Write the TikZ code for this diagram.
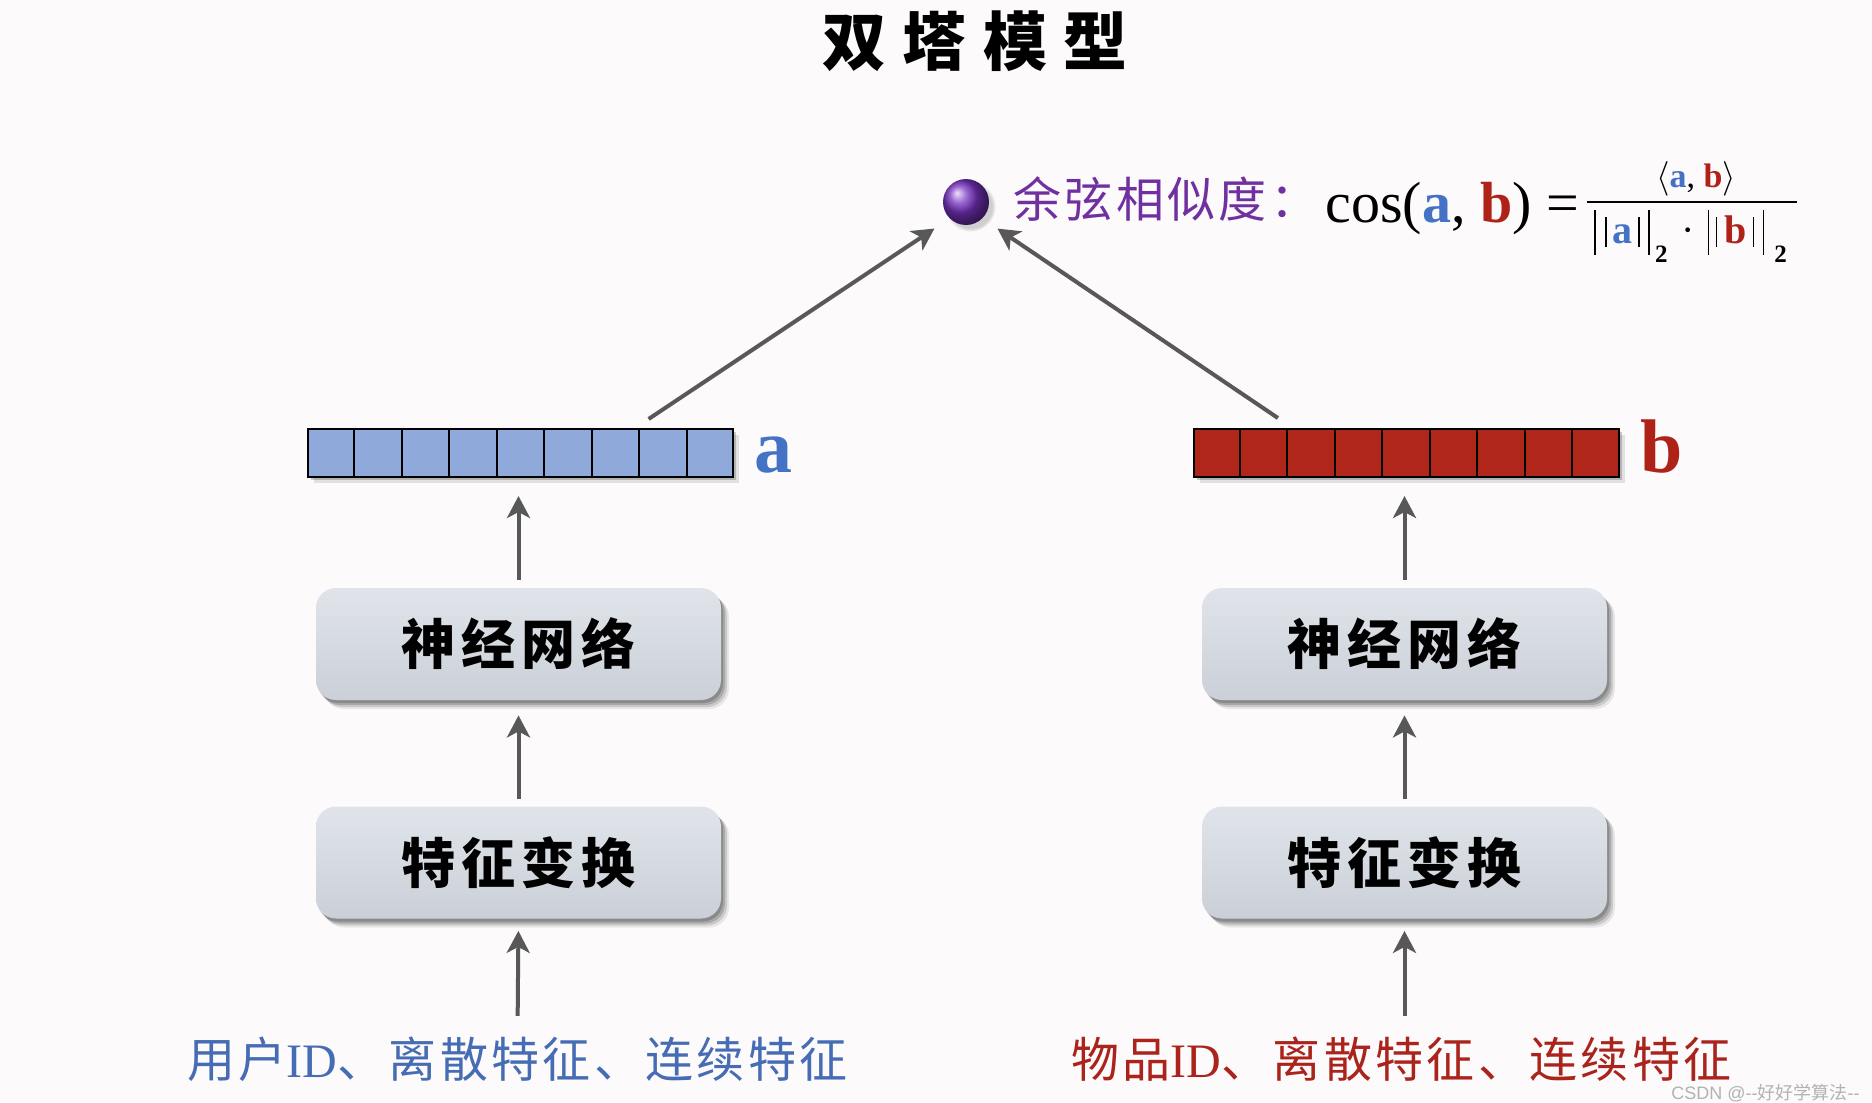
\documentclass[tikz,border=0pt]{standalone}
\usepackage{fontspec}
\setmainfont{Liberation Serif}
\newfontfamily\cjk{Noto Sans CJK SC}
\newfontfamily\cjkT[LetterSpace=26]{Noto Sans CJK SC}
\newfontfamily\cjkB[LetterSpace=11]{Noto Sans CJK SC}
\newfontfamily\cjkL[LetterSpace=7]{Noto Sans CJK SC}
\newfontfamily\wmsans{Liberation Sans}
\usetikzlibrary{arrows.meta,shadows,calc,fadings}
\definecolor{bg}{RGB}{252,250,251}
\definecolor{arrgray}{RGB}{88,88,88}
\definecolor{cellblue}{RGB}{143,169,219}
\definecolor{cellred}{RGB}{176,38,26}
\definecolor{labblue}{RGB}{68,114,196}
\definecolor{labred}{RGB}{175,34,24}
\definecolor{txtblue}{RGB}{70,108,180}
\definecolor{txtred}{RGB}{170,36,28}
\definecolor{purp}{RGB}{112,48,160}
\definecolor{sphpurple}{RGB}{122,52,196}
\definecolor{boxtop}{RGB}{224,228,234}
\definecolor{boxbot}{RGB}{203,208,216}
\definecolor{wmgray}{RGB}{178,178,178}
\newcommand\tallbar{\rule[-6pt]{0.8pt}{22.5pt}}
\newcommand\shortbar{\rule[-2pt]{0.8pt}{15pt}}
\newcommand\subtwo{\raisebox{-9.5pt}{\fontsize{12.5pt}{13pt}\selectfont\bfseries 2}}
\tikzset{
  arr/.style={draw=arrgray, line width=2pt, -{Stealth[length=11pt,width=11.5pt,inset=3pt]}},
  procbox/.style={rounded corners=10pt, minimum width=202.5pt, minimum height=56pt,
    top color=boxtop, bottom color=boxbot, draw=none, inner sep=0pt,
    drop shadow={shadow xshift=4pt, shadow yshift=-4.5pt, opacity=0.08, fill=black},
    drop shadow={shadow xshift=3pt, shadow yshift=-3.5pt, opacity=0.12, fill=black},
    drop shadow={shadow xshift=2pt, shadow yshift=-2.5pt, opacity=0.16, fill=black},
    drop shadow={shadow xshift=1pt, shadow yshift=-1.5pt, opacity=0.18, fill=black},
    font=\cjkB\bfseries\fontsize{27pt}{30pt}\selectfont},
  vec/.style={draw=black, line width=1pt, minimum width=212.5pt, minimum height=24pt,
    inner sep=0pt,
    drop shadow={shadow xshift=3pt, shadow yshift=-3pt, opacity=0.1, fill=black},
    drop shadow={shadow xshift=1.5pt, shadow yshift=-1.5pt, opacity=0.2, fill=black}},
  veclab/.style={anchor=base, inner sep=0pt, font=\bfseries\fontsize{38pt}{40pt}\selectfont},
  intext/.style={anchor=base, inner sep=0pt, font=\fontsize{24pt}{28pt}\selectfont},
}
\begin{document}
\begin{tikzpicture}[x=0.5pt,y=-0.5pt]
\fill[bg] (0,0) rectangle (1872,1102);
\useasboundingbox (0,0) rectangle (1872,1102);

% title
\node[anchor=base, inner sep=0pt, font=\cjkT\bfseries\fontsize{32pt}{36pt}\selectfont] (title) at (975,66) {双塔模型};

% similarity sphere
\node[circle, minimum size=23pt, inner sep=0pt, ball color=sphpurple,
  circular drop shadow={shadow xshift=2pt, shadow yshift=-2pt, opacity=0.35}] (sph) at (966,202) {};
\node[anchor=west, inner sep=0pt, text=purp, font=\cjkL\fontsize{24pt}{28pt}\selectfont] (simlab) at (1013,199) {余弦相似度：};

% formula
\node[anchor=base west, inner sep=0pt, font=\fontsize{29pt}{34pt}\selectfont] (cosf) at (1325,222)
  {cos(\textcolor{labblue}{\textbf{a}}, \textcolor{labred}{\textbf{b}}) =};
\draw[line width=1.2pt] (1587,202) -- (1797,202);
\node[anchor=base, inner sep=0pt, font=\fontsize{17pt}{19pt}\selectfont] (num) at (1696,187)
  {$\langle$\textcolor{labblue}{\textbf{a}}, \textcolor{labred}{\textbf{b}}$\rangle$};
\node[anchor=base west, inner sep=0pt, font=\fontsize{20pt}{22pt}\selectfont] (den) at (1594,243)
  {\tallbar\hspace{4.7pt}\shortbar\hspace{2.7pt}\textcolor{labblue}{\textbf{a}}\hspace{3pt}\shortbar\hspace{4.2pt}\tallbar\hspace{2.5pt}\subtwo\hspace{7pt}·\hspace{6.5pt}\tallbar\hspace{3.2pt}\shortbar\hspace{3.5pt}\textcolor{labred}{\textbf{b}}\hspace{3pt}\shortbar\hspace{4.2pt}\tallbar\hspace{5pt}\subtwo};

% vectors
\node[vec, fill=cellblue] (veca) at (520.5,453) {};
\foreach \i in {1,...,8}
  \draw[line width=1pt] ($(veca.north west)!\i/9!(veca.north east)$) -- ($(veca.south west)!\i/9!(veca.south east)$);
\node[vec, fill=cellred] (vecb) at (1406,453) {};
\foreach \i in {1,...,8}
  \draw[line width=1pt] ($(vecb.north west)!\i/9!(vecb.north east)$) -- ($(vecb.south west)!\i/9!(vecb.south east)$);
\node[veclab, text=labblue] (laba) at (773,472) {a};
\node[veclab, text=labred] (labb) at (1662,472) {b};

% boxes
\node[procbox] (nnL) at (518.5,644) {神经网络};
\node[procbox] (ftL) at (518.5,862.5) {特征变换};
\node[procbox] (nnR) at (1404.5,644) {神经网络};
\node[procbox] (ftR) at (1404.5,862.5) {特征变换};

% inputs
\node[intext, text=txtblue] (inL) at (517.5,1077) {{\cjkL 用户}ID{\cjkL 、离散特征、连续特征}};
\node[intext, text=txtred] (inR) at (1401.5,1077) {{\cjkL 物品}ID{\cjkL 、离散特征、连续特征}};

% vertical arrows
\draw[arr, shorten <=10pt, shorten >=6pt] (inL.north) -- (ftL.south);
\draw[arr, shorten <=3.5pt, shorten >=7.5pt] (ftL.north) -- (nnL.south);
\draw[arr, shorten <=4pt, shorten >=9pt] (nnL.north) -- (veca.south -| nnL.north);
\draw[arr, shorten <=10pt, shorten >=6pt] (inR.north -| ftR.south) -- (ftR.south);
\draw[arr, shorten <=3.5pt, shorten >=7.5pt] (ftR.north) -- (nnR.south);
\draw[arr, shorten <=4pt, shorten >=9pt] (nnR.north) -- (vecb.south -| nnR.north);

% diagonal arrows
\coordinate (aout) at ($(veca.north west)!0.8!(veca.north east)+(0,-9)$);
\coordinate (bout) at ($(vecb.north west)!0.2!(vecb.north east)+(0,-10)$);
\draw[arr, shorten >=9pt] (aout) -- (sph.225);
\draw[arr, shorten >=9pt] (bout) -- (sph.315);

% watermark
\node[anchor=east, inner sep=0pt, text=wmgray, font=\wmsans\fontsize{9pt}{10pt}\selectfont] (wm) at (1860,1093) {CSDN @--{\cjk 好好学算法}--};
\end{tikzpicture}
\end{document}
